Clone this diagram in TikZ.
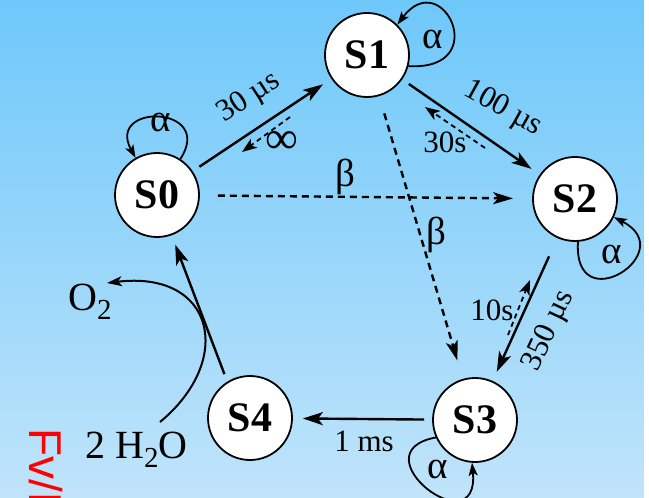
\documentclass[tikz,border=0pt]{standalone}
\usepackage{fontspec}
\setmainfont{Liberation Serif}
\newfontfamily\redsans{Liberation Sans}
\usetikzlibrary{arrows.meta}
\definecolor{bgtop}{RGB}{110,200,250}
\definecolor{bgbot}{RGB}{192,228,250}
\tikzset{
 stnode/.style={circle, draw, fill=white, line width=1.8pt, minimum size=84pt, inner sep=0pt, font=\fontsize{42}{42}\selectfont\bfseries},
 lbl/.style={font=\fontsize{31}{31}\selectfont, inner sep=0pt},
 greek/.style={font=\fontsize{39}{39}\selectfont, inner sep=0pt},
 chemlbl/.style={font=\fontsize{40}{40}\selectfont, inner sep=0pt},
 mainarrow/.style={line width=2.4pt, -{Stealth[length=20pt,width=13pt,inset=5pt]}, shorten <=8pt, shorten >=10pt},
 dasharrow/.style={line width=2.4pt, dash pattern=on 7pt off 5pt, -{Stealth[length=20pt,width=12pt,inset=5pt]}, shorten <=18pt, shorten >=19pt},
 backarrow/.style={line width=1.8pt, dash pattern=on 5pt off 4pt, -{Stealth[length=15pt,width=11pt,inset=4pt]}},
 selfloop/.style={line width=1.8pt, -{Stealth[length=13pt,width=9pt,inset=3pt]}},
}
\begin{document}
\begin{tikzpicture}[x=1pt,y=-1pt]
\useasboundingbox (0,0) rectangle (649,498);
\shade[top color=bgtop, bottom color=bgbot] (0,0) rectangle (644,498);
\fill[white] (644,0) rectangle (649,498);

\node[stnode] (S0) at (157,195) {S0};
\node[stnode] (S1) at (367,55) {S1};
\node[stnode] (S2) at (575,199) {S2};
\node[stnode] (S3) at (475,420) {S3};
\node[stnode] (S4) at (250,418) {S4};

% main transitions
\draw[mainarrow] (S0) -- (S1);
\draw[mainarrow] (S1) -- (S2);
\draw[mainarrow, shorten <=20pt] (S2) -- (S3);
\draw[mainarrow] (S3) -- (S4);
\draw[mainarrow] (S4.122) -- (S0.-70);
\draw[dasharrow] (S0) -- (S2);
\draw[dasharrow] (S1) -- (S3);

% back reactions
\coordinate (b01a) at (290,117); \coordinate (b01b) at (242,152);
\coordinate (b12a) at (485,148); \coordinate (b12b) at (425,107);
\coordinate (b23a) at (508,335); \coordinate (b23b) at (530,280);
\draw[backarrow] (b01a) -- (b01b);
\draw[backarrow] (b12a) -- (b12b);
\draw[backarrow] (b23a) -- (b23b);

% self loops
\draw[selfloop] (S0.57) .. controls +(35,-54) and +(-30,-55) .. (S0.120);
\draw[selfloop] (S1.-15) .. controls +(85,5) and +(45,-60) .. (S1.45);
\draw[selfloop] (S2.-86) .. controls +(-5,80) and +(68,35) .. (S2.-25);
\draw[selfloop] (S3.204) .. controls +(-80,15) and +(8,85) .. (S3.-94);

% labels
\node[lbl, rotate=33] (l01) at (249,98) {30 µs};
\node[lbl, font=\fontsize{46}{46}\selectfont] (linf) at (282,142) {∞};
\node[lbl, rotate=-29] (l12) at (503,109) {100 µs};
\node[lbl] (l12b) at (445,142) {30s};
\node[greek] (beta1) at (345,177) {β};
\node[greek] (beta2) at (436,235) {β};
\node[lbl, rotate=65] (l23) at (549,331) {350 µs};
\node[lbl] (l23b) at (492,310) {10s};
\node[lbl] (l34) at (364,441) {1 ms};
\node[greek] (a0) at (161,122) {α};
\node[greek] (a1) at (433,39) {α};
\node[greek] (a2) at (612,254) {α};
\node[greek] (a3) at (438,469) {α};

% water oxidation
\node[chemlbl, anchor=base west] (o2) at (68,310) {O\raisebox{-9pt}{\fontsize{29}{29}\selectfont 2}};
\node[chemlbl, anchor=base west] (h2o) at (85,458) {2 H\raisebox{-9pt}{\fontsize{29}{29}\selectfont 2}O};
\coordinate (wst) at (160,422);
\coordinate (oend) at (107,283);
\draw[line width=2pt, -{Stealth[length=15pt,width=10pt,inset=4pt]}] (wst) .. controls (235,360) and (215,270) .. (oend);

\begin{scope}
\clip (0,0) rectangle (649,498);
\node[rotate=-90, anchor=base west, inner sep=0pt, text=red, font=\redsans\fontsize{46}{46}\selectfont] (fv) at (30,428) {Fv/Fm};
\end{scope}
\end{tikzpicture}
\end{document}
